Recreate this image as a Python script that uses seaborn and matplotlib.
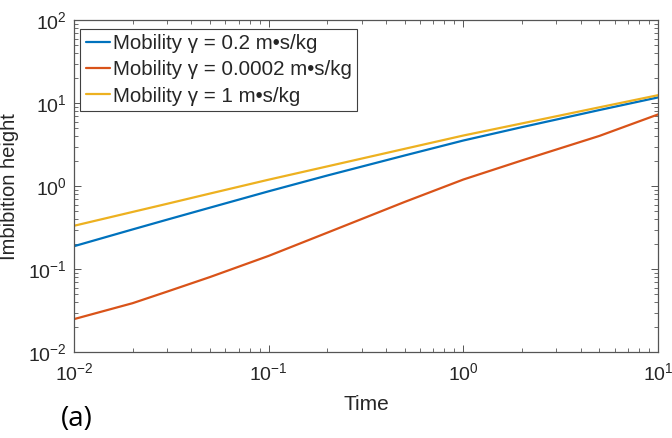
import numpy as np
import pandas as pd
import matplotlib
matplotlib.use("Agg")
import matplotlib.pyplot as plt
import seaborn as sns

# values (log-log axes)
time = [0.01, 0.02, 0.03, 0.05, 0.1, 0.2, 0.5, 1, 2, 5, 10]
h_gamma_02 = [0.189, 0.301, 0.394, 0.551, 0.867, 1.343, 2.344, 3.548, 5.14, 8.26, 11.72]
h_gamma_00002 = [0.025, 0.0389, 0.0535, 0.0804, 0.1445, 0.275, 0.646, 1.202, 2.042, 4.03, 7.31]
h_gamma_1 = [0.333, 0.489, 0.612, 0.815, 1.197, 1.73, 2.818, 4.074, 5.70, 8.91, 12.47]

labels = ["Mobility γ = 0.2 m•s/kg",
          "Mobility γ = 0.0002 m•s/kg",
          "Mobility γ = 1 m•s/kg"]
colors = ["#0072BD", "#D95319", "#EDB120"]

# long-form table for seaborn
data = pd.concat([
    pd.DataFrame({"Time": time, "Height": h_gamma_02, "series": labels[0]}),
    pd.DataFrame({"Time": time, "Height": h_gamma_00002, "series": labels[1]}),
    pd.DataFrame({"Time": time, "Height": h_gamma_1, "series": labels[2]}),
])

sns.set_style("ticks")
plt.rcParams["font.family"] = ["Liberation Sans", "DejaVu Sans"]
plt.rcParams["mathtext.fontset"] = "custom"
plt.rcParams["mathtext.rm"] = "Liberation Sans"

fig = plt.figure(figsize=(6.72, 4.38), dpi=100)
ax = fig.add_axes([0.1101, 0.196, 0.8691, 0.758])

sns.lineplot(data=data, x="Time", y="Height", hue="series", hue_order=labels,
             palette=colors, linewidth=1.6, ax=ax, sort=False)

ax.set_xscale("log")
ax.set_yscale("log")
ax.set_xlim(0.01, 10)
ax.set_ylim(0.01, 100)

ax.set_xlabel("Time", fontsize=15, color="#262626", labelpad=8)
ax.set_ylabel("Imbibition height", fontsize=14.5, color="#262626", labelpad=7)

ax.tick_params(which="both", direction="in", top=True, right=True,
               colors="#262626", labelsize=14)
ax.tick_params(axis="x", which="major", pad=7)
ax.tick_params(axis="y", which="major", pad=5)
ax.tick_params(which="major", length=5, width=0.7, color="#555555")
ax.tick_params(which="minor", length=2.8, width=0.6, color="#555555")
for sp in ax.spines.values():
    sp.set_color("#555555")
    sp.set_linewidth(0.9)
    sp.set_visible(True)

leg = ax.legend(loc="upper left", bbox_to_anchor=(0.011, 0.973), fontsize=14.8,
                frameon=True, fancybox=False, framealpha=1, edgecolor="#404040",
                handlelength=1.2, handletextpad=0.15, labelspacing=0.35,
                borderpad=0.25, borderaxespad=0)
leg.get_frame().set_linewidth(0.8)

fig.text(0.114, 0.043, "(a)", fontsize=20, family="Open Sans",
         ha="center", va="center", color="black")

fig.savefig("out.png", dpi=100)
